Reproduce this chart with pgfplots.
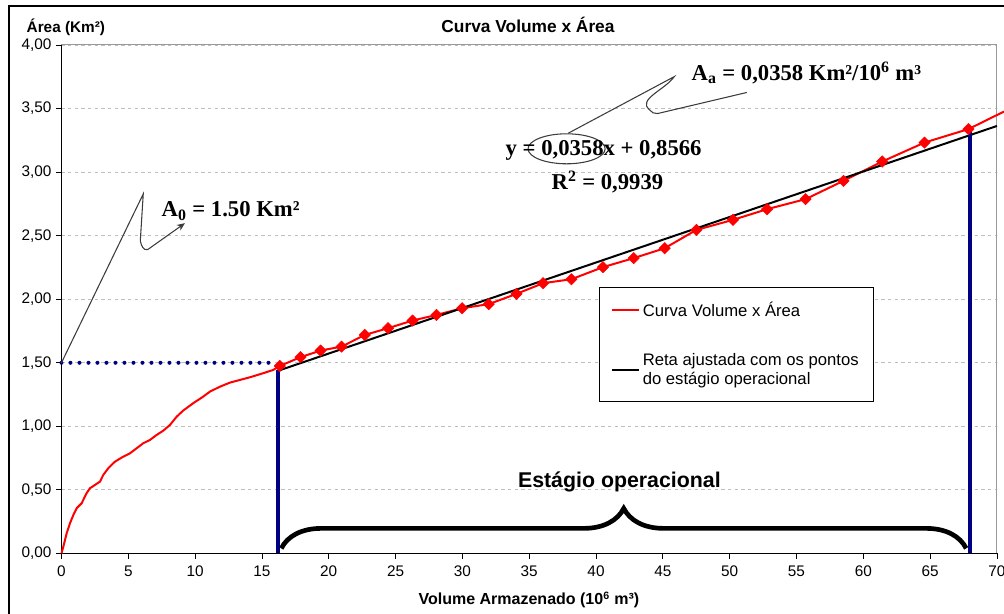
\documentclass[border=0pt]{standalone}
\usepackage{fontspec}
\setmainfont{Liberation Sans}
\newfontfamily\tnr{Liberation Serif}
\usepackage{pgfplots}
\pgfplotsset{compat=1.18}
\usetikzlibrary{decorations.pathreplacing,arrows.meta}

\definecolor{navyline}{RGB}{0,0,128}
\definecolor{gridgray}{RGB}{190,190,190}
\definecolor{callout}{RGB}{60,60,60}

\begin{document}
\begin{tikzpicture}
\useasboundingbox (-46.1pt,-45.4pt) rectangle (706.9pt,415.1pt);
% chart frame
\draw[black, line width=1pt] (-39.4pt,-60pt) -- (-39.4pt,410.6pt) -- (720pt,410.6pt);
\begin{axis}[
  at={(0,0)}, anchor=south west,
  scale only axis, width=701.6pt, height=381.4pt,
  xmin=0, xmax=70, ymin=0, ymax=4,
  xtick={0,5,10,15,20,25,30,35,40,45,50,55,60,65,70},
  ytick={0,0.5,1,1.5,2,2.5,3,3.5,4},
  axis x line*=bottom, axis y line*=left,
  axis line style={-, black, line width=0.9pt},
  tick align=outside, major tick length=4pt,
  tick style={black, line width=0.6pt},
  ymajorgrids,
  major grid style={gridgray, dash pattern=on 2.5pt off 2.5pt, line width=0.6pt},
  ticklabel style={font=\fontsize{11.5}{13}\selectfont},
  xticklabel style={yshift=-1.5pt},
  /pgf/number format/assume math mode=true,
  yticklabel style={/pgf/number format/.cd, fixed, fixed zerofill, precision=2, use comma},
  clip=false,
  legend style={at={(axis cs:40.22,2.097)}, anchor=north west, draw=black,
    line width=0.75pt, fill=white, font=\fontsize{12.5}{14.5}\selectfont,
    inner xsep=9pt, inner ysep=9pt, row sep=22pt,
    cells={anchor=west, align=left}},
  legend image code/.code={\draw[#1] (0pt,0pt) -- (20pt,0pt);},
]
% plot frame, top and right sides
\draw[gray!80, line width=0.8pt] (rel axis cs:0,1) -- (rel axis cs:1,1) -- (rel axis cs:1,0);

% volume-area curve
\addplot[red, line width=1.5pt, no marks] coordinates {
(0,0) (0.14,0.054) (0.39,0.159) (0.64,0.238) (0.89,0.303) (1.14,0.356)
(1.51,0.395) (1.88,0.474) (2.13,0.513) (2.51,0.539) (2.88,0.565) (3.13,0.618)
(3.50,0.670) (4.00,0.722) (4.63,0.762) (5.13,0.788) (5.63,0.828) (6.12,0.867)
(6.62,0.893) (7.12,0.932) (7.62,0.966) (8.12,1.011) (8.62,1.076) (9.11,1.124)
(9.86,1.182) (10.61,1.234) (11.11,1.273) (11.86,1.312) (12.61,1.344) (13.36,1.365)
(14.11,1.386) (15.10,1.418) (15.85,1.444)
(16.34,1.475) (17.89,1.544) (19.39,1.596) (20.96,1.627) (22.70,1.719) (24.44,1.772)
(26.27,1.832) (28.06,1.876) (29.98,1.929) (31.97,1.961) (34.05,2.042) (36.04,2.126)
(38.16,2.157) (40.52,2.252) (42.82,2.323) (45.14,2.401) (47.51,2.545) (50.25,2.624)
(52.80,2.708) (55.68,2.787) (58.52,2.931) (61.42,3.083) (64.58,3.232) (67.87,3.338)
(70.53,3.476)
};
\addlegendentry{Curva Volume x Área}

% operational-stage points
\addplot[red, only marks, mark=square*, mark size=3pt, mark options={rotate=45}, forget plot] coordinates {
(16.34,1.475) (17.89,1.544) (19.39,1.596) (20.96,1.627) (22.70,1.719) (24.44,1.772)
(26.27,1.832) (28.06,1.876) (29.98,1.929) (31.97,1.961) (34.05,2.042) (36.04,2.126)
(38.16,2.157) (40.52,2.252) (42.82,2.323) (45.14,2.401) (47.51,2.545) (50.25,2.624)
(52.80,2.708) (55.68,2.787) (58.52,2.931) (61.42,3.083) (64.58,3.232) (67.87,3.338)
};

% fitted line y = 0.0358x + 0.8566
\addplot[black, line width=1.5pt, no marks] coordinates {(16.2,1.4366) (70,3.3626)};
\addlegendentry{Reta ajustada com os pontos\\do estágio operacional}

% limits of the operational stage
\addplot[navyline, line width=3pt, forget plot] coordinates {(16.2,0) (16.2,1.44)};
\addplot[navyline, line width=3pt, forget plot] coordinates {(68,0) (68,3.32)};
\addplot[navyline, line width=3pt, line cap=round, dash pattern=on 0pt off 6.75pt, forget plot]
  coordinates {(0,1.5) (15.9,1.5)};

% brace under the operational stage
\draw[decorate, decoration={brace, amplitude=30pt}, line width=3.5pt]
  (axis cs:16.45,0.04) -- (axis cs:67.7,0.04);
\node[anchor=base, font=\fontsize{16}{18}\selectfont\bfseries] at (axis cs:41.75,0.515) {Estágio operacional};

% A0 callout
\draw[callout, line width=0.8pt, -{Stealth[length=6pt,width=5pt]}]
  (axis cs:0,1.5) -- (axis cs:6.12,2.828) -- (axis cs:5.90,2.46)
  to[out=-80, in=195] (axis cs:6.45,2.39) -- (axis cs:9.24,2.598);
\node[anchor=base west, font=\fontsize{17}{20}\selectfont\tnr\bfseries] at (axis cs:7.15,2.648)
  {A\textsubscript{0} = 1.50 Km²};

% slope callout
\draw[callout, line width=0.8pt]
  (axis cs:37.93,3.306) -- (axis cs:45.86,3.751) to[out=-125, in=140] (axis cs:44.0,3.49)
  to[out=-50, in=185] (axis cs:44.6,3.46) -- (axis cs:51.28,3.626);
\draw[callout, line width=0.8pt] (axis cs:37.80,3.183) ellipse [x radius=28.9pt, y radius=11.25pt];
\node[anchor=base west, font=\fontsize{17}{20}\selectfont\tnr\bfseries] at (axis cs:46.81,3.720)
  {A\textsubscript{a} = 0,0358 Km²/10\textsuperscript{6} m³};
\node[anchor=base west, font=\fontsize{17}{20}\selectfont\tnr\bfseries] at (axis cs:32.89,3.127)
  {y = 0,0358x + 0,8566};
\node[anchor=base west, font=\fontsize{17}{20}\selectfont\tnr\bfseries] at (axis cs:36.33,2.860)
  {R\textsuperscript{2} = 0,9939};
\end{axis}

% titles
\node[anchor=base, font=\fontsize{13}{15}\selectfont\bfseries] at (349.9pt,390.4pt) {Curva Volume x Área};
\node[anchor=base west, font=\fontsize{11.5}{14}\selectfont\bfseries] at (-29.6pt,390.4pt) {Área (Km²)};
\node[anchor=base, font=\fontsize{12}{14}\selectfont\bfseries] at (350.6pt,-38.6pt) {Volume Armazenado (10\textsuperscript{6} m³)};
\end{tikzpicture}
\end{document}
